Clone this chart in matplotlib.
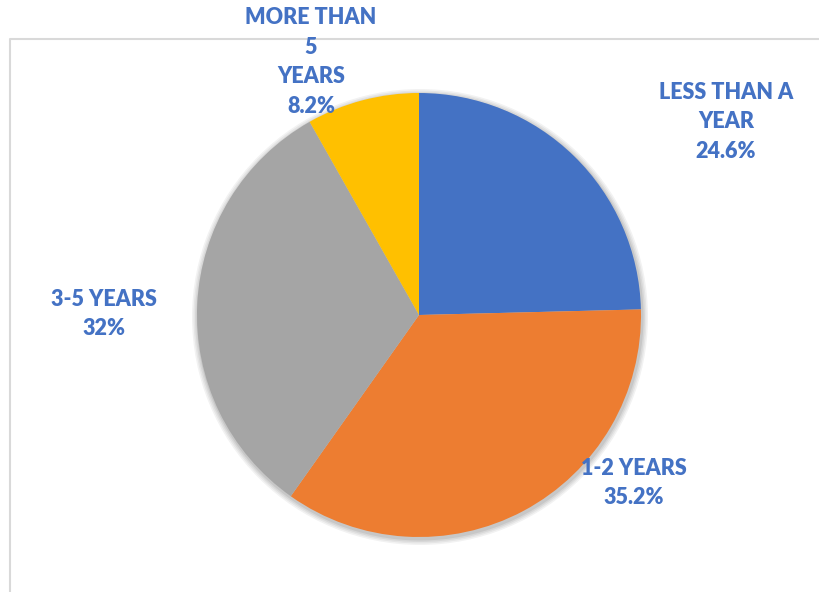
import matplotlib.pyplot as plt
from matplotlib.patches import Circle
from matplotlib.lines import Line2D

# data
categories = ["LESS THAN A\nYEAR", "1-2 YEARS", "3-5 YEARS", "MORE THAN\n5\nYEARS"]
shares = [24.6, 35.2, 32.0, 8.2]
pct_labels = ["24.6%", "35.2%", "32%", "8.2%"]
colors = ["#4472C4", "#ED7D31", "#A5A5A5", "#FFC000"]

W, H = 819, 592
# label centres in pixel coords (from top-left)
label_pos = [(726, 122), (634, 483), (104, 314), (311, 62)]

fig = plt.figure(figsize=(W / 100, H / 100), dpi=100)
ax = fig.add_axes([0, 0, 1, 1])

# chart area border (only left and top visible)
ax.add_line(Line2D([9.5, 9.5, W], [0, H - 38.5, H - 38.5], color="#D9D9D9", lw=1.5))

cx, cy, r = 419, H - 315, 222

# soft shadow
for i, a in enumerate([0.05, 0.05, 0.06, 0.07]):
    ax.add_patch(Circle((cx + 1, cy - 2), r + 6 - i * 1.5, color="black", alpha=a, lw=0))

ax.pie(shares, colors=colors, startangle=90, counterclock=False,
       center=(cx, cy), radius=r, frame=True,
       wedgeprops=dict(linewidth=0))
ax.set_xlim(0, W)
ax.set_ylim(0, H)
ax.set_aspect("equal")
ax.axis("off")

for cat, pct, (x, y) in zip(categories, pct_labels, label_pos):
    ax.text(x, H - y, cat + "\n" + pct, ha="center", va="center",
            color="#4472C4", fontsize=15.5, fontweight="heavy",
            family="Lato", linespacing=1.52)

plt.savefig("out.png", dpi=100)
